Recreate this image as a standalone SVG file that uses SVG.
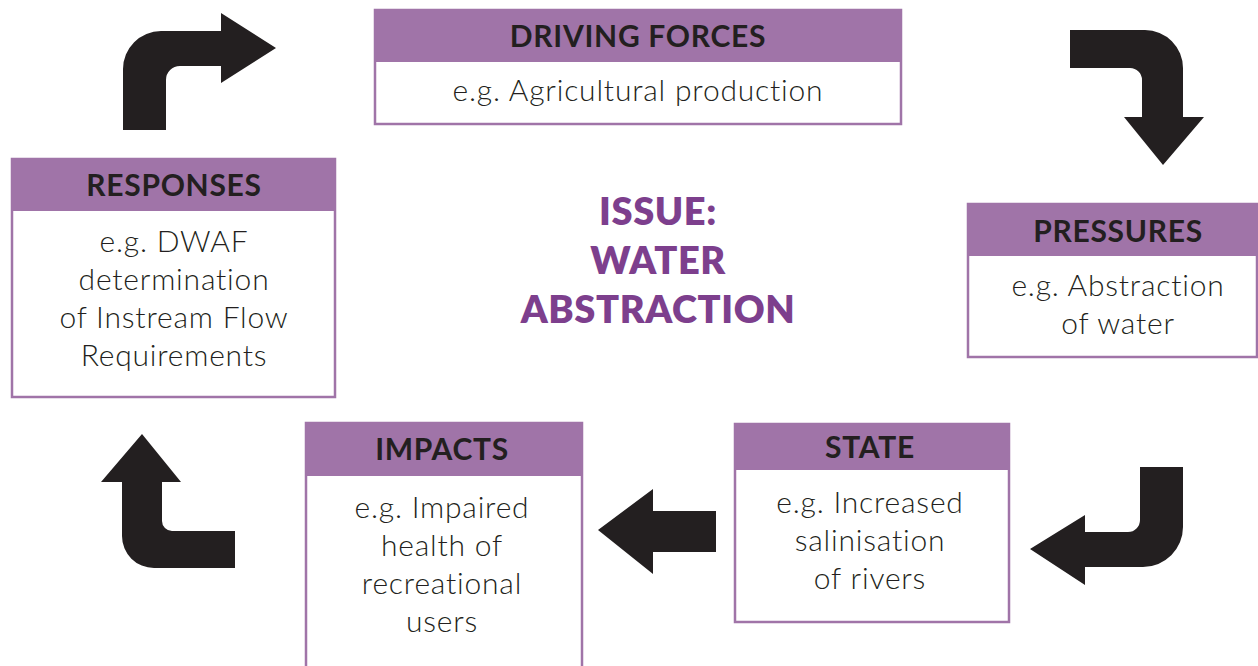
<svg xmlns="http://www.w3.org/2000/svg" width="1258" height="666" viewBox="0 0 1258 666">
  <style>
    .body { fill: #ffffff; stroke: #a074a8; stroke-width: 2.5; }
    .head { fill: #a074a8; }
    .title { font-family: Lato, "Noto Sans", sans-serif; font-weight: 700; font-size: 30px; letter-spacing: 0.7px; fill: #231f20; text-anchor: middle; }
    .desc { font-family: Lato, "Noto Sans", sans-serif; font-weight: 300; font-size: 30px; letter-spacing: 0.8px; fill: #231f20; text-anchor: middle; }
    .issue { font-family: Lato, "Noto Sans", sans-serif; font-weight: 800; font-size: 38px; letter-spacing: 0.6px; fill: #7d3f8d; text-anchor: middle; }
    .arrow { fill: #231f20; }
  </style>
  <rect width="1258" height="666" fill="#ffffff"/>

  <g id="driving-forces">
    <rect class="body" x="375" y="10" width="526" height="114"/>
    <rect class="head" x="374" y="9" width="528" height="53"/>
    <text class="title" x="638" y="47">DRIVING FORCES</text>
    <text class="desc" x="638" y="101">e.g. Agricultural production</text>
  </g>

  <g id="pressures">
    <rect class="body" x="968" y="204" width="289" height="153"/>
    <rect class="head" x="967" y="203" width="291" height="53"/>
    <text class="title" x="1118" y="242">PRESSURES</text>
    <text class="desc" x="1118" y="296">e.g. Abstraction</text>
    <text class="desc" x="1118" y="334">of water</text>
  </g>

  <g id="state">
    <rect class="body" x="735" y="424" width="274" height="198"/>
    <rect class="head" x="734" y="423" width="276" height="47"/>
    <text class="title" x="870" y="458">STATE</text>
    <text class="desc" x="870" y="513">e.g. Increased</text>
    <text class="desc" x="870" y="551">salinisation</text>
    <text class="desc" x="870" y="589">of rivers</text>
  </g>

  <g id="impacts">
    <rect class="body" x="306" y="423" width="276" height="260"/>
    <rect class="head" x="305" y="422" width="278" height="54"/>
    <text class="title" x="442" y="460">IMPACTS</text>
    <text class="desc" x="442" y="518">e.g. Impaired</text>
    <text class="desc" x="442" y="556">health of</text>
    <text class="desc" x="442" y="594">recreational</text>
    <text class="desc" x="442" y="632">users</text>
  </g>

  <g id="responses">
    <rect class="body" x="12" y="159" width="323" height="238"/>
    <rect class="head" x="11" y="158" width="325" height="53"/>
    <text class="title" x="174" y="196">RESPONSES</text>
    <text class="desc" x="174" y="252">e.g. DWAF</text>
    <text class="desc" x="174" y="290">determination</text>
    <text class="desc" x="174" y="328">of Instream Flow</text>
    <text class="desc" x="174" y="366">Requirements</text>
  </g>

  <g id="issue">
    <text class="issue" x="658" y="225">ISSUE:</text>
    <text class="issue" x="658" y="274">WATER</text>
    <text class="issue" x="658" y="323">ABSTRACTION</text>
  </g>

  <g id="connectors">
    <!-- responses to driving forces -->
    <path class="arrow" d="M123,130 L123,69 A38,38 0 0 1 161,31 L221,31 L221,13 L276,48 L221,83 L221,66 L180,66 A14,14 0 0 0 166,80 L166,130 Z"/>
    <!-- driving forces to pressures -->
    <path class="arrow" d="M1070,30 L1145,30 A38,38 0 0 1 1183,68 L1183,117 L1204,117 L1163,165 L1124,117 L1142,117 L1142,80 A12,12 0 0 0 1130,68 L1070,68 Z"/>
    <!-- pressures to state -->
    <path class="arrow" d="M1183,467 L1183,527 A40,40 0 0 1 1143,567 L1085,567 L1085,585 L1030,549 L1085,515 L1085,532 L1128,532 A12,12 0 0 0 1140,520 L1140,467 Z"/>
    <!-- state to impacts -->
    <path class="arrow" d="M598,530 L653,489 L653,511 L716,511 L716,552 L653,552 L653,574 Z"/>
    <!-- impacts to responses -->
    <path class="arrow" d="M142,434 L181,482 L162,482 L162,521 A10,10 0 0 0 172,531 L235,531 L235,568 L154,568 A32,32 0 0 1 122,536 L122,482 L101,482 Z"/>
  </g>
</svg>
